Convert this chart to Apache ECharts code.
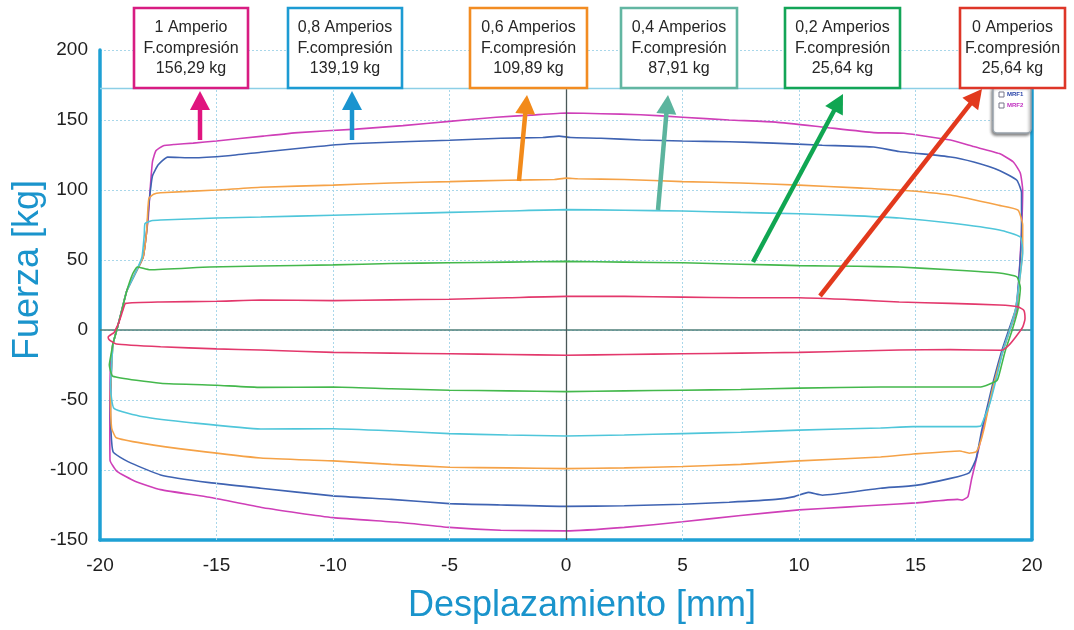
<!DOCTYPE html>
<html><head><meta charset="utf-8">
<script src="https://cdn.jsdelivr.net/npm/echarts/dist/echarts.min.js"></script>
<style>html,body{margin:0;padding:0;background:#fff}#c{width:1074px;height:630px}</style>
</head><body><div id="c"></div>
<script>
// ---------- data ----------
const xMin = -20, xMax = 20, xStep = 5;
const yMin = -150, yMax = 200, yStep = 50;
const frameTop = 172.5;
const gridX = [-15, -10, -5, 5, 10, 15];

const seriesNames = ['1 A', '0,8 A', '0,6 A', '0,4 A', '0,2 A', '0 A'];
const lineColors = ['#cf3fb8', '#3f63b2', '#f5a247', '#4fc6da', '#44b84c', '#e3386c'];

const loop1A = [[-19.45,-10],[-19.25,2],[-19.05,15],[-18.85,28],[-18.5,40],[-18.15,52],[-18.0,70],[-17.93,80],[-17.85,100],[-17.75,120],[-17.6,128],[-17.3,131.5],[-16.8,132.5],[-16,133.5],[-15,135],[-13,138.5],[-11.5,141],[-9,143.5],[-7,146],[-5,149],[-3,152],[-1.5,153.5],[0,155],[1.5,154.5],[3.2,153.8],[5,152],[7,150],[9,148.5],[11,145],[13.2,141],[14.5,140.5],[16.5,135.7],[17.5,131],[18.6,126],[19.2,120],[19.5,112],[19.6,100],[19.55,70],[19.45,40],[19.35,15],[19.05,0],[18.75,-15],[18.4,-36],[18.2,-50],[17.9,-71],[17.6,-93],[17.4,-107],[17.25,-119],[17.0,-121.5],[16.8,-121],[15,-123.5],[13.5,-125],[12,-126.5],[10,-128.5],[7.5,-132.5],[5,-137],[2.5,-141],[0,-143.5],[-2.8,-143],[-5,-141],[-7.1,-137.5],[-10,-134],[-13,-127],[-15.3,-119.5],[-17.4,-114],[-18.5,-108],[-19.27,-101],[-19.57,-93],[-19.58,-60],[-19.55,-25],[-19.45,-10]];
const loop08A = [[-19.45,-10],[-19.25,2],[-19.05,15],[-18.85,28],[-18.5,40],[-18.15,52],[-18.0,70],[-17.9,90],[-17.75,110],[-17.5,118],[-17.1,123.5],[-16,123],[-14.5,124.5],[-13.1,127],[-11,130.5],[-9.3,133],[-7,134.5],[-5,135.5],[-2.8,137],[-1,137.5],[-0.3,138.5],[0.2,137.5],[1.5,137],[3.2,135.7],[5,135],[7,134.5],[8.9,133.5],[11,132],[13.2,130.7],[14.3,127.5],[16.5,123.6],[17.5,120],[18.6,114],[19.35,107],[19.55,98],[19.55,70],[19.45,40],[19.3,15],[19.0,0],[18.7,-15],[18.35,-36],[18.15,-50],[17.85,-71],[17.6,-92],[17.3,-102],[16.5,-106],[15,-111],[13.5,-113],[11,-118],[10.4,-116],[9.8,-119],[9,-121],[7,-123],[5,-124.5],[2.5,-125.5],[0,-126],[-2.8,-125],[-5,-124],[-7.5,-121],[-10,-118.5],[-13.1,-113],[-15.3,-109],[-17.4,-103.5],[-18.8,-94],[-19.44,-87],[-19.55,-60],[-19.5,-25],[-19.45,-10]];
const loop06A = [[-19.45,-10],[-19.25,2],[-19.05,15],[-18.85,28],[-18.5,40],[-18.15,52],[-18.0,70],[-17.95,85],[-17.9,94],[-17.7,97],[-17.4,98],[-15,100],[-13.1,102],[-10,103.5],[-7.5,105],[-5,106],[-2.5,107],[-0.5,107.5],[0,108.5],[0.5,108],[2.5,107.5],[5,106],[7.5,105],[10,103.5],[12.5,101.5],[14.3,100],[16.5,96.4],[18.6,89],[19.4,85.7],[19.6,75],[19.6,59],[19.5,40],[19.3,15],[19.05,0],[18.75,-15],[18.4,-36],[18.2,-50],[17.95,-70],[17.75,-82],[17.6,-87],[17.3,-88],[16.9,-86.4],[14.9,-88.6],[13.5,-90.7],[10,-93.5],[7.5,-96],[5,-97.5],[2.5,-98.5],[0,-99],[-2.5,-98.5],[-5,-98],[-7.5,-96],[-10,-93.5],[-13.1,-91.4],[-16,-86],[-18.15,-81],[-19.3,-77],[-19.5,-70],[-19.55,-45],[-19.5,-25],[-19.45,-10]];
const loop04A = [[-19.45,-10],[-19.25,2],[-19.05,15],[-18.85,28],[-18.5,40],[-18.2,52],[-18.1,68],[-18.07,76],[-17.8,78],[-17.4,78.6],[-15,80],[-13.1,80.7],[-10,82],[-7.5,83],[-5,84],[-2.5,85],[0,86],[2.5,85.5],[5,85],[7.5,84],[10,83],[12.5,81.5],[14.3,80],[16.5,76.4],[18.6,71.4],[19.5,66.4],[19.6,55],[19.5,40],[19.3,15],[19.05,0],[18.75,-15],[18.45,-36],[18.2,-52],[17.9,-65],[17.8,-68.6],[17.5,-69],[14.9,-69],[13.5,-70],[10,-71.5],[7.5,-73],[5,-74],[2.5,-75],[0,-75.7],[-2.5,-75],[-5,-74],[-7.5,-72],[-10,-70.5],[-13.1,-70.7],[-16,-66.4],[-18.15,-62],[-19.4,-56],[-19.55,-40],[-19.5,-25],[-19.45,-10]];
const loop02A = [[-19.45,-10],[-19.25,2],[-19.05,15],[-18.85,28],[-18.6,40],[-18.4,45],[-17.85,43],[-15.3,45],[-13.1,45.7],[-10,46.5],[-7.5,47.5],[-5,48],[-2.5,48.5],[0,49],[2.5,48.5],[5,48],[7.5,47],[10,46],[12.5,45.5],[14.3,45],[16.5,43],[18.6,40.7],[19.35,38],[19.5,30],[19.4,15],[19.15,0],[18.85,-15],[18.65,-28],[18.5,-36],[17.8,-40.7],[13.5,-40.7],[10,-41.5],[7.5,-42.5],[5,-43],[2.5,-43.5],[0,-44],[-2.5,-43.5],[-5,-43],[-7.5,-42],[-10,-40.7],[-13.1,-41],[-15,-39.5],[-17.4,-38],[-19.45,-33],[-19.6,-25],[-19.5,-15],[-19.45,-10]];
const loop0A = [[-19.4,-2],[-19.2,5],[-19.0,15],[-18.9,19],[-17.4,20],[-15,20.5],[-13.1,21.4],[-10,21],[-7.5,21.5],[-5,22],[-2.5,23],[0,24],[2.5,24],[5,23.5],[7.5,23],[10,23],[12.5,21.5],[14.3,20],[16.5,19],[18.6,17.9],[19.4,16.5],[19.65,14],[19.7,8],[19.6,2],[19.3,-5],[19.0,-11],[18.7,-14.5],[16.5,-14],[14.3,-14.3],[12.5,-15],[10,-16],[7.5,-16.5],[5,-17],[2.5,-17.5],[0,-18],[-2.5,-17.5],[-5,-17],[-7.5,-16.5],[-10,-16],[-13.1,-14.3],[-15,-13.5],[-17.4,-12],[-19.3,-10],[-19.6,-7],[-19.65,-5],[-19.5,-3],[-19.4,-2]];
const loops = [loop1A, loop08A, loop06A, loop04A, loop02A, loop0A];

// annotation boxes
const boxTitle = ['1 Amperio', '0,8 Amperios', '0,6 Amperios', '0,4 Amperios', '0,2 Amperios', '0 Amperios'];
const boxSub = 'F.compresión';
const boxValue = ['156,29 kg', '139,19 kg', '109,89 kg', '87,91 kg', '25,64 kg', '25,64 kg'];
const boxColors = ['#d81c82', '#1c9bd3', '#f28c22', '#62b6a2', '#13a557', '#de3628'];
const arrowColors = ['#e0157f', '#1a94cf', '#f28a1a', '#5cb49e', '#10a652', '#e2391d'];

// ---------- layout (pixels) ----------
const boxLeft = [134, 288, 470, 621, 785, 960];
const boxWidth = [114, 114, 117, 116, 115, 105];
const arrowTail = [[200,140],[352,140],[519,181],[658,210],[753,262],[820,296]];
const arrowTip  = [[200,91],[352,91],[527,95],[668,95],[843,94],[982,89]];

const FONT = '"Liberation Sans", Arial, Helvetica, sans-serif';
const AXIS_BLUE = '#1ea0d4';
const GRID_COL = '#a9d7ea';

function arrow(t, h, color) {
  const dx = h[0] - t[0], dy = h[1] - t[1];
  const L = Math.sqrt(dx*dx + dy*dy);
  const ux = dx / L, uy = dy / L, px = -uy, py = ux;
  const headLen = 19, headW = 10;
  const bx = h[0] - ux * headLen, by = h[1] - uy * headLen;
  return [
    {type:'line', shape:{x1:t[0], y1:t[1], x2:bx + ux*2, y2:by + uy*2}, style:{stroke:color, lineWidth:4.5}, z:20},
    {type:'polygon', shape:{points:[[h[0],h[1]],[bx + px*headW, by + py*headW],[bx - px*headW, by - py*headW]]}, style:{fill:color}, z:20}
  ];
}

const graphics = [];
// legend box (top right)
graphics.push({type:'rect', shape:{x:993, y:86, width:38, height:47, r:4}, style:{fill:'#fff', stroke:'#9aa4ad', lineWidth:1.5, shadowBlur:3, shadowColor:'rgba(0,0,0,0.45)', shadowOffsetX:-1, shadowOffsetY:2}, z:15});
graphics.push({type:'rect', shape:{x:999, y:92, width:5, height:5}, style:{fill:'#fff', stroke:'#778', lineWidth:1}, z:16});
graphics.push({type:'rect', shape:{x:999, y:103, width:5, height:5}, style:{fill:'#fff', stroke:'#778', lineWidth:1}, z:16});
graphics.push({type:'text', x:1007, y:94.5, style:{text:'MRF1', fill:'#2a45a8', font:'bold 6px ' + FONT, verticalAlign:'middle'}, z:16});
graphics.push({type:'text', x:1007, y:105.5, style:{text:'MRF2', fill:'#c030c0', font:'bold 6px ' + FONT, verticalAlign:'middle'}, z:16});

for (let i = 0; i < boxTitle.length; i++) {
  graphics.push({type:'rect', shape:{x:boxLeft[i], y:8, width:boxWidth[i], height:80}, style:{fill:'#fff', stroke:boxColors[i], lineWidth:2.6}, z:18});
  const cx = boxLeft[i] + boxWidth[i] / 2;
  [boxTitle[i], boxSub, boxValue[i]].forEach((s, k) => {
    graphics.push({type:'text', x:cx, y:28 + k * 20.5, style:{text:s, fill:'#262626', font:'16px ' + FONT, align:'center', verticalAlign:'middle'}, z:19});
  });
  arrow(arrowTail[i], arrowTip[i], arrowColors[i]).forEach(g => graphics.push(g));
}
// axis titles
graphics.push({type:'text', x:28, y:270, rotation:Math.PI/2, style:{text:'Fuerza [kg]', fill:'#1a94cc', font:'36px ' + FONT, align:'center', verticalAlign:'middle'}, z:10});
graphics.push({type:'text', x:582, y:606, style:{text:'Desplazamiento [mm]', fill:'#1a94cc', font:'36px ' + FONT, align:'center', verticalAlign:'middle'}, z:10});

// frame / reference lines
const frameLines = [];
gridX.forEach(x => frameLines.push([{coord:[x, yMin], lineStyle:{color:GRID_COL, width:1, type:[2,2]}}, {coord:[x, frameTop]}]));
frameLines.push([{coord:[xMin, 0], lineStyle:{color:'#4f7f79', width:1.6, type:'solid'}}, {coord:[xMax, 0]}]);
frameLines.push([{coord:[0, yMin], lineStyle:{color:'#4a5858', width:1.3, type:'solid'}}, {coord:[0, frameTop]}]);
frameLines.push([{coord:[xMin, frameTop], lineStyle:{color:'#8ccfe6', width:1.3, type:'solid'}}, {coord:[xMax, frameTop]}]);
frameLines.push([{coord:[xMax, yMin], lineStyle:{color:AXIS_BLUE, width:3.5, type:'solid'}}, {coord:[xMax, frameTop]}]);

const series = [{
  type:'line', name:'frame', data:[[xMin, 0]], showSymbol:false, symbol:'none', lineStyle:{width:0}, silent:true, z:1,
  markLine:{silent:true, symbol:['none','none'], label:{show:false}, animation:false, data:frameLines}
}];
loops.forEach((d, i) => series.push({
  type:'line', name:seriesNames[i], data:d, showSymbol:false, symbol:'none', smooth:0.15,
  lineStyle:{color:lineColors[i], width:1.6}, z:3 + i, animation:false
}));

const chart = echarts.init(document.getElementById('c'), null, {renderer:'canvas'});
chart.setOption({
  backgroundColor:'#ffffff',
  animation:false,
  grid:{left:100, right:42, top:50, bottom:90, containLabel:false},
  xAxis:{type:'value', min:xMin, max:xMax, interval:xStep,
    axisLine:{show:true, onZero:false, lineStyle:{color:AXIS_BLUE, width:3.5}},
    axisTick:{show:false}, splitLine:{show:false},
    axisLabel:{color:'#1e1e1e', fontSize:19, fontFamily:FONT, margin:16}},
  yAxis:{type:'value', min:yMin, max:yMax, interval:yStep,
    axisLine:{show:true, onZero:false, lineStyle:{color:AXIS_BLUE, width:3.5}},
    axisTick:{show:false},
    splitLine:{show:true, lineStyle:{color:GRID_COL, width:1, type:[2,2]}},
    axisLabel:{color:'#1e1e1e', fontSize:19, fontFamily:FONT, margin:12}},
  series:series,
  graphic:graphics
});
</script></body></html>
